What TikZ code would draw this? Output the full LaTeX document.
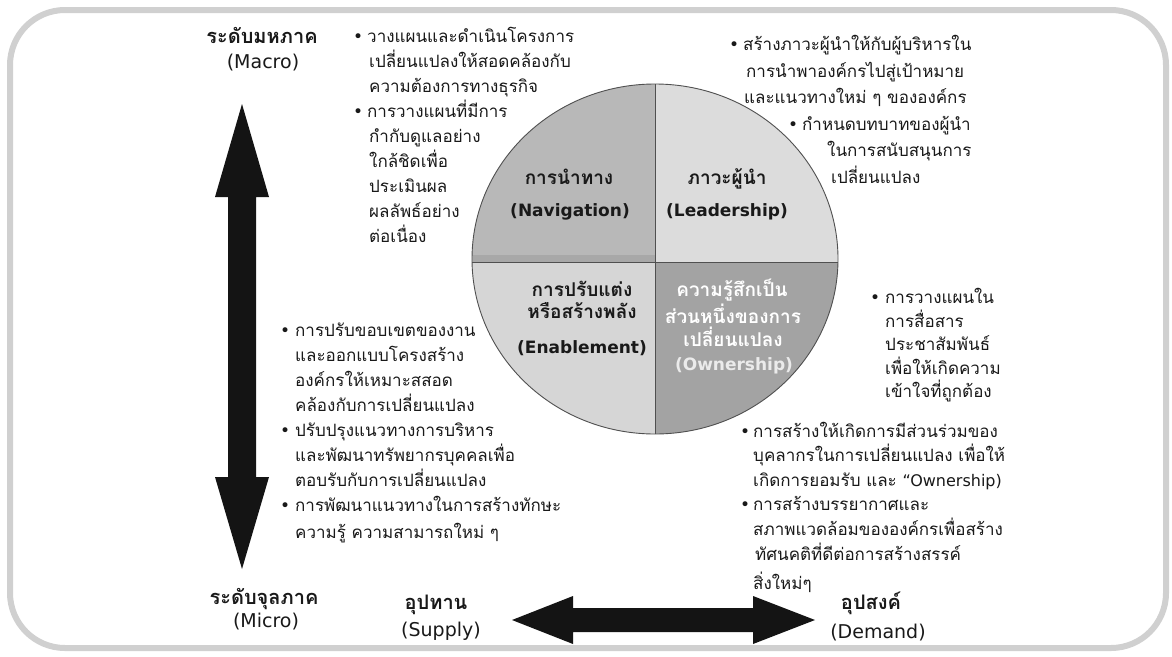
\documentclass[tikz,border=0pt]{standalone}
\usepackage{fontspec}
\newfontfamily\thai[Script=Thai]{Loma}
\newfontfamily\dv{DejaVu Sans}
\definecolor{framec}{RGB}{208,208,208}
\definecolor{navc}{RGB}{184,184,184}
\definecolor{leadc}{RGB}{220,220,220}
\definecolor{enabc}{RGB}{214,214,214}
\definecolor{ownc}{RGB}{163,163,163}
\definecolor{bandc}{RGB}{168,168,168}
\definecolor{ringc}{RGB}{80,80,80}
\definecolor{txt}{RGB}{25,25,25}
\tikzset{
  thb/.style={font=\thai\bfseries\fontsize{20}{24}\selectfont, inner sep=0, anchor=base, text=txt},
  lat/.style={font=\dv\fontsize{19}{23}\selectfont, inner sep=0, anchor=center, text=txt},
  body/.style={font=\thai\fontsize{17}{20}\selectfont, inner sep=0, anchor=base west, text=txt},
  bul/.style={font=\dv\fontsize{17}{20}\selectfont, inner sep=0, anchor=base west, text=txt},
  qth/.style={font=\thai\bfseries\fontsize{19}{22}\selectfont, inner sep=0, anchor=base, text=txt},
  qlat/.style={font=\dv\bfseries\fontsize{17}{20}\selectfont, inner sep=0, anchor=center, text=txt},
  ring/.style={draw=ringc, line width=0.9pt},
  bigarrow/.style={fill=black!92},
}
\begin{document}
\begin{tikzpicture}[x=1pt,y=-1pt]
\useasboundingbox (0,0) rectangle (1172,656);
\fill[white] (0,0) rectangle (1172,656);
% frame
\draw[framec, line width=6pt, rounded corners=55pt] (10,10) rectangle (1166,648);

% circle
\coordinate (C) at (655,259);
\begin{scope}
  \clip (C) ellipse [x radius=183, y radius=175];
  \fill[navc]  (460,70)  rectangle (655,262);
  \fill[leadc] (655,70)  rectangle (850,262);
  \fill[enabc] (460,262) rectangle (655,450);
  \fill[ownc]  (655,262) rectangle (850,450);
  \fill[bandc] (460,255) rectangle (655,262);
\end{scope}
\draw[ring] (C) ellipse [x radius=183, y radius=175];
\draw[ring] (655,84) -- (655,434);
\draw[ring] (472,262) -- (838,262);

% quadrant texts
\node[qth] (navT) at (569,184) {การนำทาง};
\node[qlat] (navL) at (570,212) {(Navigation)};
\node[qth] (leadT) at (727,184) {ภาวะผู้นำ};
\node[qlat] (leadL) at (727,212) {(Leadership)};
\node[qth] (enT1) at (582,296) {การปรับแต่ง};
\node[qth] (enT2) at (582,318) {หรือสร้างพลัง};
\node[qlat] (enL) at (582,348) {(Enablement)};
\node[qth, text=white] (owT1) at (732,296) {ความรู้สึกเป็น};
\node[qth, text=white] (owT2) at (733,323) {ส่วนหนึ่งของการ};
\node[qth, text=white] (owT3) at (733,346) {เปลี่ยนแปลง};
\node[qlat, text=white!92!black] (owL) at (734,366) {(Ownership)};

% vertical arrow
\fill[bigarrow] (242,104) -- (269,197) -- (256,197) -- (256,477) -- (269,477) -- (242,569)
  -- (215,477) -- (228,477) -- (228,197) -- (215,197) -- cycle;
% horizontal arrow
\fill[bigarrow] (512,620) -- (573,596) -- (573,608) -- (753,608) -- (753,596) -- (815,620)
  -- (753,644) -- (753,632) -- (573,632) -- (573,644) -- cycle;

% axis labels
\node[thb] (macroT) at (262,43) {ระดับมหภาค};
\node[lat] (macroL) at (263,63) {(Macro)};
\node[thb] (microT) at (264,604) {ระดับจุลภาค};
\node[lat] (microL) at (266,622) {(Micro)};
\node[thb] (supT) at (436,609) {อุปทาน};
\node[lat] (supL) at (441,631) {(Supply)};
\node[thb] (demT) at (871,609) {อุปสงค์};
\node[lat] (demL) at (878,633) {(Demand)};

% top-left bullets
\node[bul] (tlb1) at (353,42) {•};
\node[body] (tl1) at (367,42) {วางแผนและดำเนินโครงการ};
\node[body] (tl2) at (369,67) {เปลี่ยนแปลงให้สอดคล้องกับ};
\node[body] (tl3) at (369,92) {ความต้องการทางธุรกิจ};
\node[bul] (tlb2) at (353,117) {•};
\node[body] (tl4) at (367,117) {การวางแผนที่มีการ};
\node[body] (tl5) at (369,142) {กำกับดูแลอย่าง};
\node[body] (tl6) at (369,167) {ใกล้ชิดเพื่อ};
\node[body] (tl7) at (369,192) {ประเมินผล};
\node[body] (tl8) at (369,217) {ผลลัพธ์อย่าง};
\node[body] (tl9) at (369,242) {ต่อเนื่อง};

% top-right bullets
\node[bul] (trb1) at (729,50) {•};
\node[body] (tr1) at (743,50) {สร้างภาวะผู้นำให้กับผู้บริหารใน};
\node[body] (tr2) at (746,77) {การนำพาองค์กรไปสู่เป้าหมาย};
\node[body] (tr3) at (744,103) {และแนวทางใหม่ ๆ ขององค์กร};
\node[bul] (trb2) at (788,130) {•};
\node[body] (tr4) at (802,130) {กำหนดบทบาทของผู้นำ};
\node[body] (tr5) at (827,156) {ในการสนับสนุนการ};
\node[body] (tr6) at (831,183) {เปลี่ยนแปลง};

% middle-left bullets
\node[bul] (mlb1) at (280,336) {•};
\node[body] (ml1) at (295,336) {การปรับขอบเขตของงาน};
\node[body] (ml2) at (295,361) {และออกแบบโครงสร้าง};
\node[body] (ml3) at (295,386) {องค์กรให้เหมาะสสอด};
\node[body] (ml4) at (295,411) {คล้องกับการเปลี่ยนแปลง};
\node[bul] (mlb2) at (280,436) {•};
\node[body] (ml5) at (295,436) {ปรับปรุงแนวทางการบริหาร};
\node[body] (ml6) at (295,461) {และพัฒนาทรัพยากรบุคคลเพื่อ};
\node[body] (ml7) at (295,486) {ตอบรับกับการเปลี่ยนแปลง};
\node[bul] (mlb3) at (280,511) {•};
\node[body] (ml8) at (295,511) {การพัฒนาแนวทางในการสร้างทักษะ};
\node[body] (ml9) at (295,538) {ความรู้ ความสามารถใหม่ ๆ};

% right-middle bullets
\node[bul] (rmb1) at (870,303) {•};
\node[body] (rm1) at (885,303) {การวางแผนใน};
\node[body] (rm2) at (885,327) {การสื่อสาร};
\node[body] (rm3) at (885,350) {ประชาสัมพันธ์};
\node[body] (rm4) at (885,374) {เพื่อให้เกิดความ};
\node[body] (rm5) at (885,397) {เข้าใจที่ถูกต้อง};

% bottom-right bullets
\node[bul] (brb1) at (740,437) {•};
\node[body] (br1) at (753,437) {การสร้างให้เกิดการมีส่วนร่วมของ};
\node[body] (br2) at (753,461) {บุคลากรในการเปลี่ยนแปลง เพื่อให้};
\node[body] (br3) at (753,486) {เกิดการยอมรับ และ {\dv\fontsize{16}{20}\selectfont “Ownership)}};
\node[bul] (brb2) at (740,510) {•};
\node[body] (br4) at (753,510) {การสร้างบรรยากาศและ};
\node[body] (br5) at (753,535) {สภาพแวดล้อมขององค์กรเพื่อสร้าง};
\node[body] (br6) at (755,560) {ทัศนคติที่ดีต่อการสร้างสรรค์};
\node[body] (br7) at (753,589) {สิ่งใหม่ๆ};
\end{tikzpicture}
\end{document}
